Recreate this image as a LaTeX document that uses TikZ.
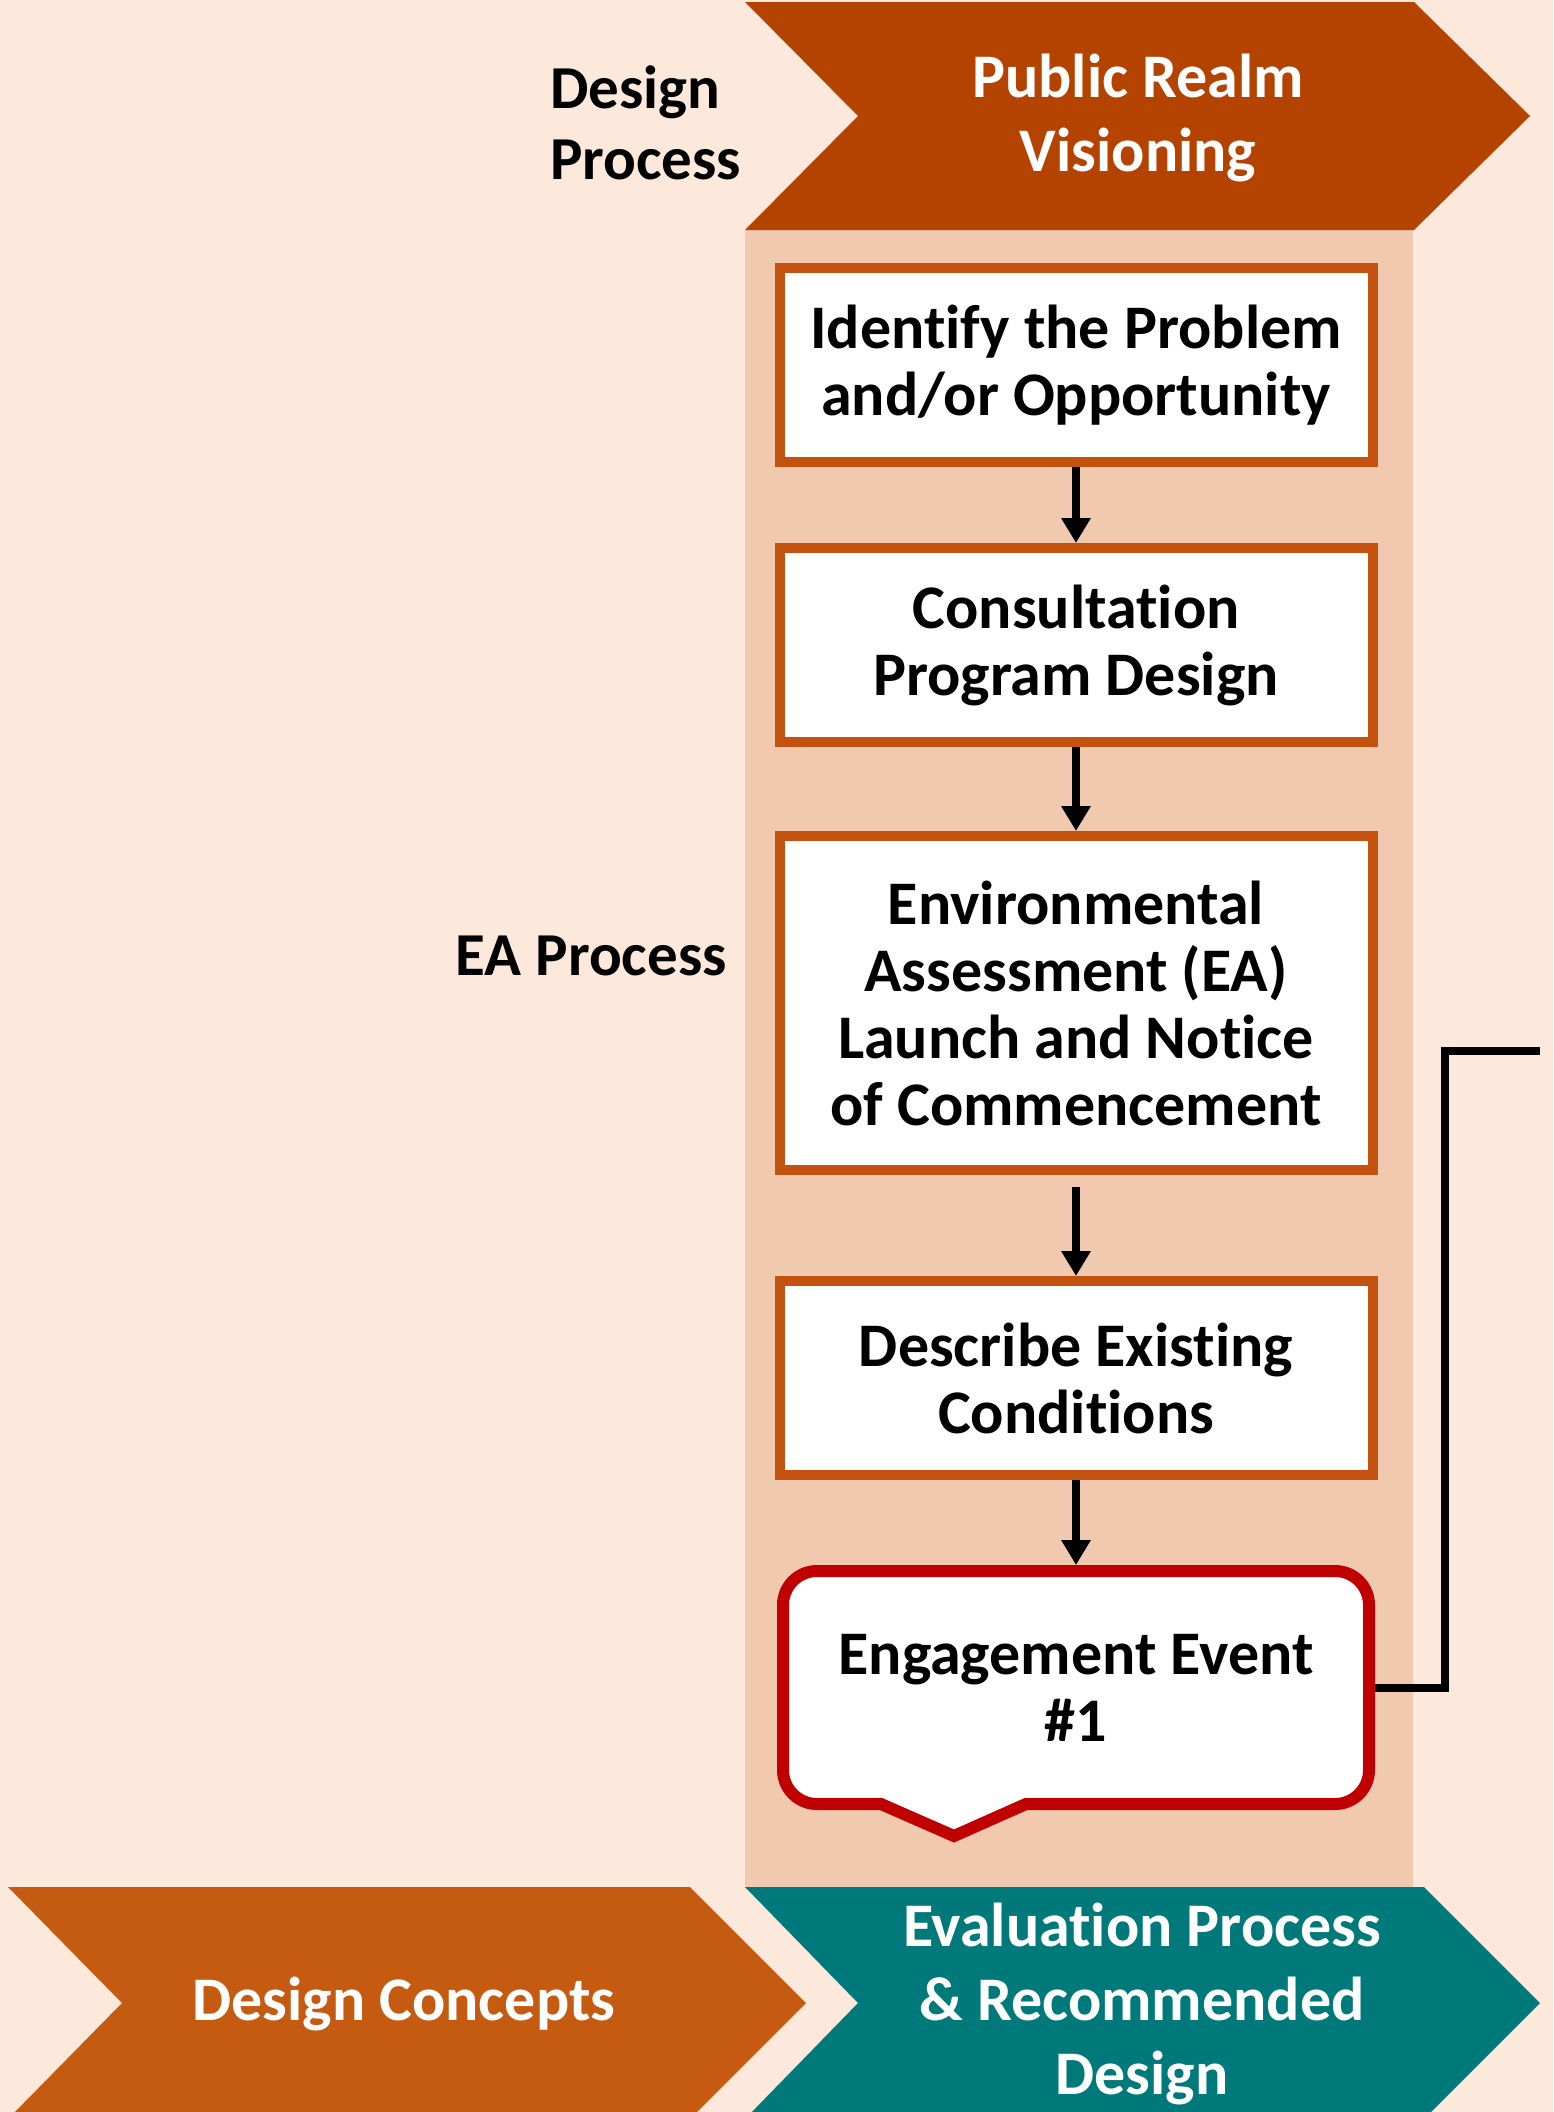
\documentclass[tikz,border=0pt]{standalone}
\usepackage{fontspec}
\setmainfont{Carlito}[Ligatures=NoCommon]
\usetikzlibrary{arrows.meta,positioning,calc}

\definecolor{peach}{HTML}{FDE9DB}
\definecolor{bandfill}{HTML}{F1C9AF}
\definecolor{rust}{HTML}{B54300}
\definecolor{burnt}{HTML}{C55A11}
\definecolor{evalteal}{HTML}{00797B}
\definecolor{boxedge}{HTML}{C4520F}
\definecolor{eventred}{HTML}{C00000}

\pgfdeclarelayer{back}
\pgfdeclarelayer{mid}
\pgfsetlayers{back,mid,main}

\begin{document}
\begin{tikzpicture}[
    x=1pt, y=-1pt,
    stepbox/.style={draw=boxedge, line width=10pt, fill=white, align=center,
      minimum width=593pt, minimum height=194pt, inner sep=0pt,
      font=\fontsize{62}{67}\selectfont\bfseries},
    eventbox/.style={align=center, minimum width=586pt, minimum height=233pt,
      inner sep=0pt, outer sep=0pt, font=\fontsize{62}{67}\selectfont\bfseries},
    chevlabel/.style={text=white, align=center, inner sep=0pt,
      font=\fontsize{62}{74}\selectfont\bfseries},
    sidelabel/.style={align=left, inner sep=0pt,
      font=\fontsize{61}{71}\selectfont\bfseries},
    arrow/.style={-{Triangle[width=28pt,length=25pt]}, line width=8pt},
    link/.style={line width=8pt}
  ]
    \useasboundingbox (0,0) rectangle (1553,2112);
    \begin{pgfonlayer}{back}
    \clip (0,0) rectangle (1553,2112);
    \fill[peach] (0,0) rectangle (1553,2112);
    % column and chevrons
    \fill[bandfill] (745,230) rectangle (1413,1887);
    \fill[rust] (745,2) -- (1414,2) -- (1530,116) -- (1414,230) -- (745,230) -- (858,116) -- cycle;
    \fill[burnt] (8,1887) -- (690,1887) -- (806,2003) -- (690,2119) -- (8,2119) -- (122,2003) -- cycle;
    \fill[evalteal] (745,1887) -- (1424,1887) -- (1540,2003) -- (1424,2119) -- (745,2119) -- (858,2003) -- cycle;
    \end{pgfonlayer}

    \node[chevlabel] (vision) at (1138,118) {Public Realm\\Visioning};
    \node[chevlabel] (concepts) at (404,2004) {Design Concepts};
    \node[chevlabel] (evaluation) at (1142,2004) {Evaluation Process\\\& Recommended\\Design};

    \node[sidelabel, anchor=west] (designproc) at (550,123) {Design\\Process};
    \node[sidelabel, anchor=east] (eaproc) at (727,956) {EA Process};

    % steps
    \node[stepbox] (problem) at (1076,365) {Identify the Problem\\and/or Opportunity};
    \node[stepbox, below=76pt of problem] (consult) {Consultation\\Program Design};
    \node[stepbox, below=84pt of consult, minimum height=334pt] (launch)
      {Environmental\\Assessment (EA)\\Launch and Notice\\of Commencement};
    \node[stepbox, below=101pt of launch] (existing) {Describe Existing\\Conditions};
    \node[eventbox, below=91pt of existing] (event) {Engagement Event\\\#1};

    % callout outline and feedback line
    \coordinate (loopend) at (1540,1051);
    \begin{pgfonlayer}{mid}
    \draw[link] (event.east) -| ($(loopend)+(-95,0)$) -- (loopend);
    \draw[eventred, line width=12pt, fill=white]
      ($(event.south)+(-50,0)$) -- ($(event.south)+(-122,32)$) -- ($(event.south)+(-195,0)$)
      [rounded corners=34pt] -- (event.south west) -- (event.north west)
      -- (event.north east) -- (event.south east) [sharp corners] -- cycle;
    \end{pgfonlayer}

    \draw[arrow] (problem) -- (consult);
    \draw[arrow] (consult) -- (launch);
    \draw[arrow, shorten <=12pt] (launch) -- (existing);
    \draw[arrow, shorten >=6pt] (existing) -- (event);
  \end{tikzpicture}
\end{document}
